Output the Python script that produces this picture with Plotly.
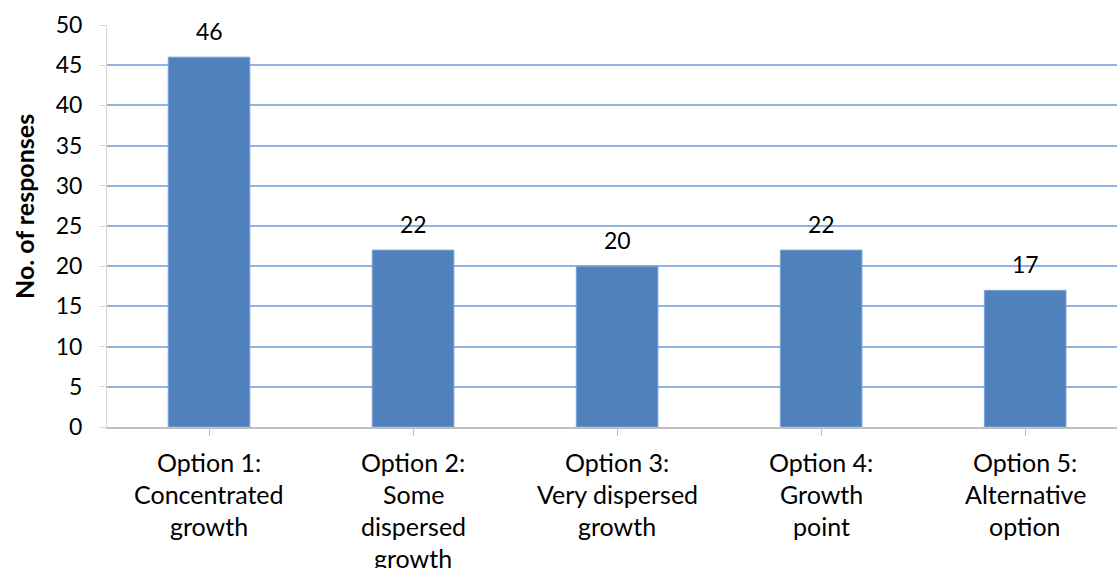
import plotly.graph_objects as go

# Survey results: responses per growth option
categories = [
    "Option 1:<br>Concentrated<br>growth",
    "Option 2:<br>Some<br>dispersed<br>growth",
    "Option 3:<br>Very dispersed<br>growth",
    "Option 4:<br>Growth<br>point",
    "Option 5:<br>Alternative<br>option",
]
responses = [46, 22, 20, 22, 17]
y_ticks = [0, 5, 10, 15, 20, 25, 30, 35, 40, 45, 50]

FONT = "Lato"
W, H = 1117, 568
L, R, T, B = 107, 0, 25, 141
LINE_GAP = 32      # px between category label lines
FIRST_LINE = 35    # px from axis to centre of first label line

x_idx = list(range(len(categories)))

fig = go.Figure(
    go.Bar(
        x=x_idx,
        y=responses,
        width=0.4,
        marker=dict(color="#4F81BD", line=dict(color="#7FA3D3", width=1)),
        hoverinfo="skip",
    )
)

# value labels above the bars
for i, v in zip(x_idx, responses):
    fig.add_annotation(
        x=i, y=v, xref="x", yref="y",
        text=str(v), showarrow=False,
        xanchor="center", yanchor="middle", yshift=26,
        font=dict(family=FONT, size=23, color="#000000"),
    )

# multi-line category labels below the axis
for i, label in zip(x_idx, categories):
    for k, line in enumerate(label.split("<br>")):
        fig.add_annotation(
            x=i, y=0, xref="x", yref="paper",
            text=line, showarrow=False,
            xanchor="center", yanchor="middle",
            yshift=-(FIRST_LINE + k * LINE_GAP),
            font=dict(family=FONT, size=25, color="#000000"),
        )

fig.update_layout(
    width=W,
    height=H,
    margin=dict(l=L, r=R, t=T, b=B, pad=0),
    paper_bgcolor="white",
    plot_bgcolor="white",
    showlegend=False,
    font=dict(family=FONT, size=23, color="#000000"),
)

fig.update_xaxes(
    range=[-0.5, 4.45],
    tickmode="array",
    tickvals=x_idx,
    ticktext=[""] * len(x_idx),
    tickson="boundaries",
    ticks="outside",
    ticklen=7,
    tickwidth=1,
    tickcolor="#BFBFBF",
    showgrid=False,
    showline=True,
    linecolor="#BFBFBF",
    linewidth=2,
    fixedrange=True,
)

fig.update_yaxes(
    range=[0, 50],
    tickmode="array",
    tickvals=y_ticks,
    ticks="outside",
    ticklen=7,
    tickwidth=1,
    tickcolor="#D9D9D9",
    ticklabelstandoff=12,
    showgrid=True,
    gridcolor="#8EB4E3",
    gridwidth=1.5,
    showline=True,
    linecolor="#D9D9D9",
    linewidth=1,
    zeroline=False,
    tickfont=dict(family=FONT, size=23, color="#000000"),
    fixedrange=True,
)

fig.add_annotation(
    text="<b>No. of responses</b>",
    xref="paper",
    yref="paper",
    x=(24 - L) / (W - L - R),
    y=(H - B - 207) / (H - T - B),
    xanchor="center",
    yanchor="middle",
    textangle=-90,
    showarrow=False,
    font=dict(family=FONT, size=25, color="#000000"),
)

fig.write_html("out.html")
